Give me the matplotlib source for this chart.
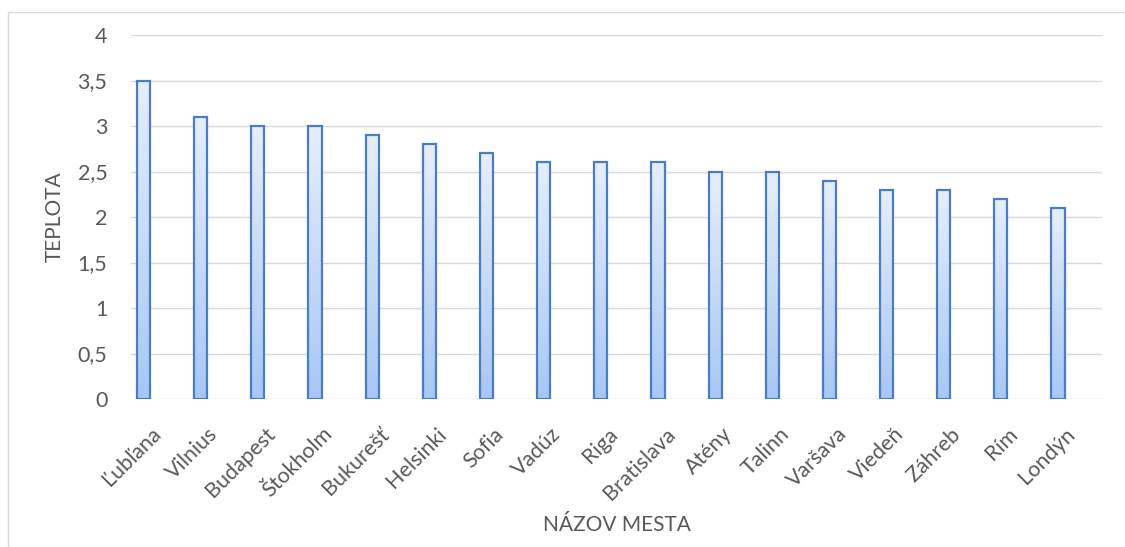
import numpy as np
import matplotlib.pyplot as plt
from matplotlib.patches import Rectangle
from matplotlib.colors import LinearSegmentedColormap
from matplotlib.ticker import FuncFormatter
from matplotlib.transforms import ScaledTranslation

cities = ['Ľubľana', 'Vilnius', 'Budapest', 'Štokholm', 'Bukurešť', 'Helsinki',
          'Sofia', 'Vadúz', 'Riga', 'Bratislava', 'Atény', 'Talinn', 'Varšava',
          'Viedeň', 'Záhreb', 'Rím', 'Londýn']
temps = [3.5, 3.1, 3.0, 3.0, 2.9, 2.8, 2.7, 2.6, 2.6, 2.6, 2.5, 2.5, 2.4,
         2.3, 2.3, 2.2, 2.1]

plt.rcParams['font.family'] = ['Lato', 'DejaVu Sans']
grey = '#595959'

fig = plt.figure(figsize=(11.25, 5.47), dpi=100)
# chart border like in the office export
fig.patches.append(Rectangle((8 / 1125, -0.1), 1.2, 1 - 12 / 547 + 0.1,
                             transform=fig.transFigure, fill=False,
                             edgecolor='#D9D9D9', linewidth=1))

ax = fig.add_axes([131 / 1125, 1 - 399 / 547, (1102 - 131) / 1125, (399 - 35) / 547])

x = np.arange(len(cities))
width = 0.23
bars = ax.bar(x, temps, width, color='none', edgecolor='#4A7EC0', linewidth=1.6, zorder=3)

# vertical gradient inside each bar
cmap = LinearSegmentedColormap.from_list('grad', ['#A8C7F6', '#E6EEFB'])
grad = np.linspace(0, 1, 256).reshape(-1, 1)
for bar in bars:
    x0 = bar.get_x()
    h = bar.get_height()
    im = ax.imshow(grad, cmap=cmap, origin='lower', aspect='auto',
                   extent=[x0, x0 + bar.get_width(), 0, h], zorder=2)
    im.set_clip_path(bar)

ax.set_xlim(-0.22, len(cities) - 1 + 0.77)
ax.set_ylim(0, 4)
ax.set_yticks(np.arange(0, 4.01, 0.5))
ax.yaxis.set_major_formatter(FuncFormatter(lambda v, p: f'{v:g}'.replace('.', ',')))
ax.grid(True, axis='y', color='#D9D9D9', linewidth=1, zorder=0)
for s in ax.spines.values():
    s.set_visible(False)
ax.tick_params(length=0, colors=grey, labelsize=15.5)
ax.tick_params(axis='y', pad=17)
ax.set_xticks(x)
ax.set_xticklabels(cities, rotation=45, ha='right', va='center', rotation_mode='anchor')
ax.tick_params(axis='x', pad=23)
shift = ScaledTranslation(14 / 100, 0, fig.dpi_scale_trans)
for lbl in ax.get_xticklabels():
    lbl.set_transform(lbl.get_transform() + shift)

# axis titles placed directly
fig.text(55 / 1125, 1 - 217 / 547, 'TEPLOTA', rotation=90, ha='center', va='center',
         color=grey, fontsize=15)
fig.text(617 / 1125, 1 - 525 / 547, 'NÁZOV MESTA', ha='center', va='center',
         color=grey, fontsize=15)

fig.savefig('out.png', dpi=100)
